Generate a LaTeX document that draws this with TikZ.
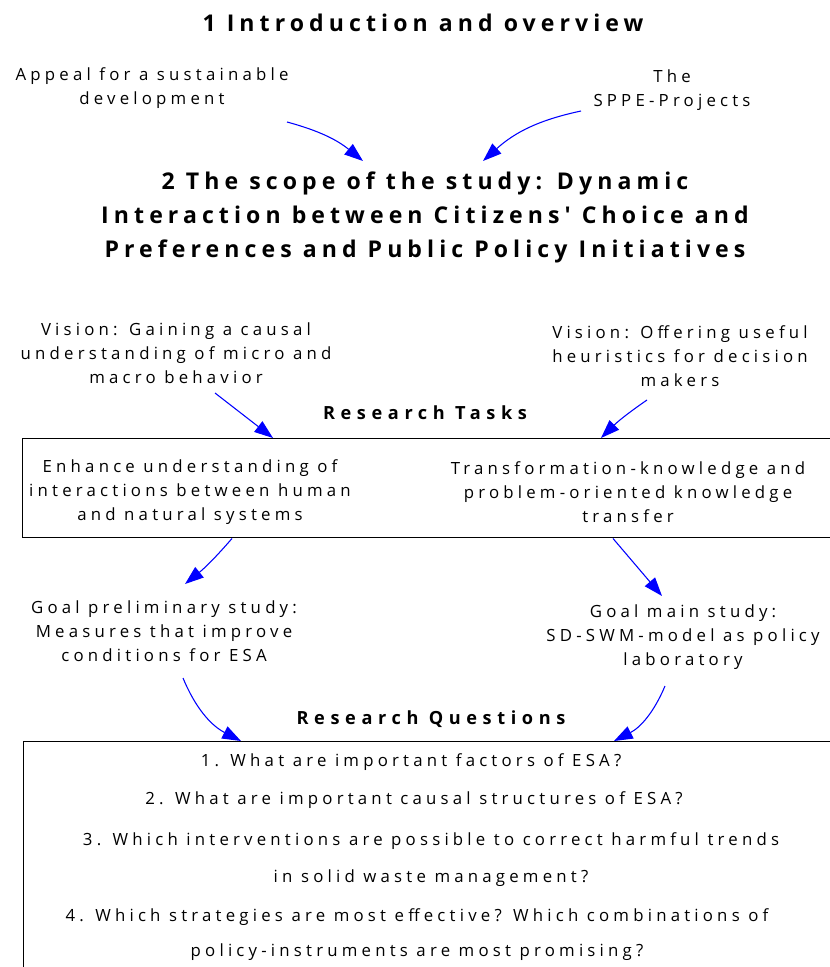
\documentclass[tikz,border=0pt]{standalone}
\usepackage{fontspec}
\usetikzlibrary{arrows.meta,calc}
\setmainfont{Open Sans}
\newfontfamily\plainfont[LetterSpace=25]{Open Sans}
\newfontfamily\headfont[LetterSpace=22]{Open Sans}
\newfontfamily\labelfont[LetterSpace=31]{Open Sans}
\begin{document}
\begin{tikzpicture}
[x=0.75pt,y=-0.75pt,
 txt/.style={align=center,inner sep=0pt,
             font=\plainfont\fontsize{12.6}{18}\selectfont},
 head/.style={align=center,inner sep=0pt,
              font=\headfont\bfseries\fontsize{17.3}{25.5}\selectfont},
 sub/.style={inner sep=0pt,
             font=\labelfont\bfseries\fontsize{13.6}{16}\selectfont},
 frame/.style={draw,line width=1.1pt,anchor=north west,inner sep=0pt},
 arr/.style={blue,line width=0.8pt,-{Triangle[length=14pt,width=10pt]}}]
\clip (0,0) rectangle (830,967);
% chapter 1
\node[head] (intro) at (423,23) {1 Introduction and overview};
\node[txt] (appeal) at (152,88) {Appeal for a sustainable\\development};
\node[txt] (sppe) at (672,90) {The\\SPPE-Projects};
% chapter 2
\node[head] (scope) at (425,217)
  {2 The scope of the study: Dynamic\\
   Interaction between Citizens' Choice and\\
   Preferences and Public Policy Initiatives};
\coordinate (appeal-out) at (287,122);
\coordinate (sppe-out) at (581,111);
\coordinate (scope-inl) at (363,161);
\coordinate (scope-inr) at (483,161);
\draw[arr] (appeal-out) to[bend left=12] (scope-inl);
\draw[arr] (sppe-out) to[bend right=15] (scope-inr);
% visions and tasks
\node[txt] (visionl) at (176,353)
  {Vision: Gaining a causal\\understanding of micro and\\macro behavior};
\node[txt] (visionr) at (680,356)
  {Vision: Offering useful\\heuristics for decision\\makers};
\node[sub] (tasks) at (425,413) {Research Tasks};
\node[frame,minimum width=618pt,minimum height=74.25pt] (taskbox) at (22,438) {};
\node[txt] (enhance) at (190,492)
  {Enhance understanding of\\interactions between human\\and natural systems};
\node[txt] (transfer) at (628,492)
  {Transformation-knowledge and\\problem-oriented knowledge\\transfer};
\coordinate (visionl-out) at (215,393);
\coordinate (visionr-out) at (647,400);
\draw[arr] (visionl-out) -- ($(taskbox.north west)+(251,0)$);
\draw[arr] (visionr-out) to[bend right=5] ($(taskbox.north west)+(579,0)$);
% goals
\node[txt] (goall) at (164,631)
  {Goal preliminary study:\\Measures that improve\\conditions for ESA};
\node[txt] (goalr) at (683,637)
  {Goal main study:\\SD-SWM-model as policy\\laboratory};
\coordinate (goall-in) at (185,584);
\coordinate (goalr-in) at (662,596);
\draw[arr] ($(taskbox.south west)+(210,0)$) to[bend left=5] (goall-in);
\draw[arr] ($(taskbox.south west)+(591,0)$) -- (goalr-in);
% questions
\node[sub] (questions) at (431,719) {Research Questions};
\node[frame,minimum width=620pt,minimum height=180pt] (qbox) at (23,741) {};
\coordinate (goall-out) at (183,678);
\coordinate (goalr-out) at (665,686);
\draw[arr] (goall-out) to[bend right=20] ($(qbox.north west)+(218,0)$);
\draw[arr] (goalr-out) to[bend left=20] ($(qbox.north west)+(591,0)$);
\node[txt] (q1) at (411,762) {1. What are important factors of ESA?};
\node[txt] (q2) at (414,800) {2. What are important causal structures of ESA?};
\node[txt,font=\plainfont\fontsize{12.6}{27.75}\selectfont] (q3) at (431,860)
  {3. Which interventions are possible to correct harmful trends\\
   in solid waste management?};
\node[txt,font=\plainfont\fontsize{12.6}{26.25}\selectfont] (q4) at (417,935)
  {4. Which strategies are most effective? Which combinations of\\
   policy-instruments are most promising?};
\end{tikzpicture}
\end{document}
